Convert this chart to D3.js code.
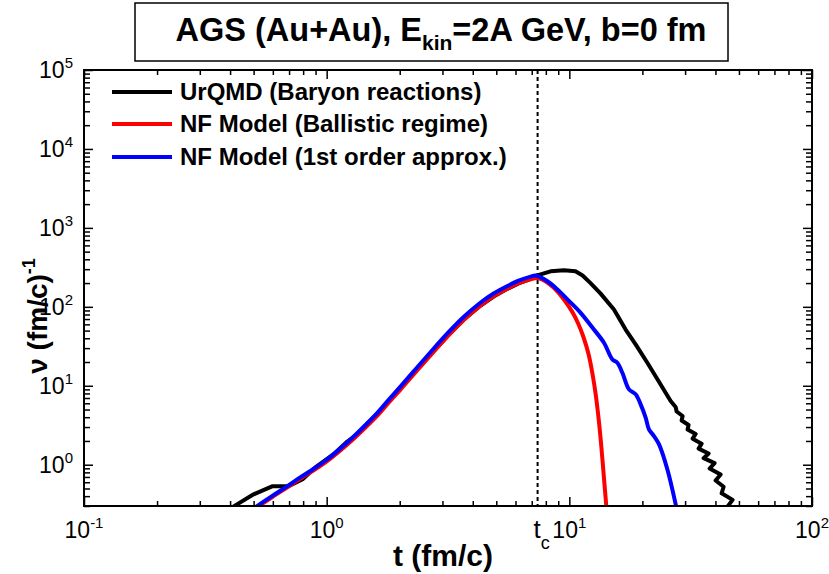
<!DOCTYPE html>
<html><head><meta charset="utf-8">
<script src="https://cdn.jsdelivr.net/npm/d3@7"></script>
<style>
body{margin:0;background:#fff}
svg{display:block}
text{font-family:Arial,"Liberation Sans",sans-serif}
</style>
</head><body>
<svg id="c" width="829" height="574"></svg>
<script>
// ---- data (t in fm/c, nu in (fm/c)^-1) ----
const urqmdT = [0.398,0.422,0.500,0.599,0.697,0.796,0.901,1.069,1.22,1.342,1.448,1.618,1.801,2.018,2.283,2.683,3.144,3.668,4.311,4.876,5.553,6.18,6.93,7.38,8.37,9.50,10.6,11.34,12.2,13.46,15.27,17.06,18.76,20.96,23.34,26.15,27.42,27.68,29.30,29.02,31.01,30.72,33.15,32.21,35.09,34.10,37.50,35.76,39.69,37.86,42.02,40.07,43.24,42.42,47.08,44.90,48.43];
const urqmdV = [0.274,0.308,0.422,0.535,0.535,0.656,0.930,1.358,1.98,2.43,3.15,4.45,6.4,9.6,14.6,25.0,42.5,68.5,104,135,169,198,226,250,282,290,282,249,201,147,92.4,51.6,33.4,19.6,11.4,6.41,5.38,4.72,4.14,3.63,3.19,2.79,2.45,2.14,1.85,1.60,1.39,1.21,1.05,0.895,0.752,0.631,0.526,0.435,0.359,0.297,0.237];

const ballisticT = [0.486,0.518,0.597,0.684,0.781,0.884,1.007,1.142,1.296,1.448,1.618,1.801,2.018,2.283,2.683,3.144,3.668,4.311,4.876,5.553,6.18,6.93,7.40,8.12,8.78,9.50,10.32,10.92,11.45,12.01,12.47,12.84,13.21,13.52,13.85,14.18,14.38];
const ballisticV = [0.25,0.29,0.39,0.51,0.67,0.85,1.12,1.53,2.15,2.98,4.2,6.1,9.0,13.9,24.5,42.0,68.0,104,136,170,200,224,231,203,165,124,84.7,59.7,40.9,24.9,13.9,7.8,3.76,1.82,0.758,0.317,0.205];

const firstOrderT = [0.486,0.518,0.597,0.684,0.781,0.884,1.007,1.142,1.296,1.448,1.618,1.801,2.018,2.283,2.683,3.144,3.668,4.311,4.876,5.553,6.18,6.93,7.26,8.12,8.93,9.93,11.13,12.63,13.89,15.04,15.77,16.54,17.61,18.76,19.67,20.63,21.28,22.32,23.40,25.34,27.42,27.94];
const firstOrderV = [0.258,0.301,0.403,0.527,0.695,0.890,1.174,1.617,2.293,3.204,4.544,6.63,9.83,15.2,26.8,46.0,74.3,113.4,147.3,183.2,215.0,241.6,248.8,210.6,165.5,120.1,84.0,51.6,35.1,21.6,19.6,14.6,9.0,7.8,5.82,3.95,2.81,2.31,1.82,0.877,0.317,0.237];

const seriesNames = ["UrQMD (Baryon reactions)","NF Model (Ballistic regime)","NF Model (1st order approx.)"];
const seriesColors = ["#000000","#ff0000","#0000ff"];
const tc = 7.4;
const xMajor = [0.1,1,10,100];
const xExp = ["-1","0","1","2"];
const yMajor = [1,10,100,1000,10000,100000];
const yExp = ["0","1","2","3","4","5"];

// ---- layout ----
const L = 84, R = 812, T = 70, B = 506;
const svg = d3.select("#c");
const x = d3.scaleLog().domain([0.1,100]).range([L,R]);
const y = d3.scaleLog().domain([0.3,1e5]).range([B,T]);

function minorsOf(domain){
  const out=[];
  for(let e=Math.floor(Math.log10(domain[0])); e<Math.log10(domain[1]); e++){
    for(let k=2;k<=9;k++){const v=k*Math.pow(10,e); if(v>=domain[0]&&v<=domain[1]) out.push(v);}
  }
  return out;
}
const xMinor = minorsOf([0.1,100]);
const yMinor = minorsOf([0.3,1e5]);

// title box
svg.append("rect").attr("x",135).attr("y",3).attr("width",593).attr("height",58)
  .attr("fill","#fff").attr("stroke","#000").attr("stroke-width",1.5);
const title = svg.append("text").attr("x",441).attr("y",41).attr("text-anchor","middle")
  .attr("font-size",32.5).attr("font-weight","bold");
title.append("tspan").text("AGS (Au+Au), E");
title.append("tspan").attr("font-size",21).attr("dy",9).text("kin");
title.append("tspan").attr("dy",-9).text("=2A GeV, b=0 fm");

// clip
svg.append("clipPath").attr("id","clip").append("rect")
  .attr("x",L).attr("y",T).attr("width",R-L).attr("height",B-T);

// axes ticks
function tickAxis(gen, tr, vals, size){
  const g = svg.append("g").attr("transform",tr)
    .call(gen.tickValues(vals).tickSize(-size).tickFormat(""));
  g.select(".domain").remove();
  g.selectAll("line").attr("stroke","#000").attr("stroke-width",1.5);
}
tickAxis(d3.axisBottom(x), `translate(0,${B})`, xMajor, 9);
tickAxis(d3.axisBottom(x), `translate(0,${B})`, xMinor, 5);
tickAxis(d3.axisTop(x), `translate(0,${T})`, xMajor, 9);
tickAxis(d3.axisTop(x), `translate(0,${T})`, xMinor, 5);
tickAxis(d3.axisLeft(y), `translate(${L},0)`, yMajor, 9);
tickAxis(d3.axisLeft(y), `translate(${L},0)`, yMinor, 6);
tickAxis(d3.axisRight(y), `translate(${R},0)`, yMajor, 9);
tickAxis(d3.axisRight(y), `translate(${R},0)`, yMinor, 6);

// tick labels
xMajor.forEach((v,i)=>{
  const t = svg.append("text").attr("x",x(v)).attr("y",538).attr("text-anchor","middle").attr("font-size",23);
  t.append("tspan").text("10");
  t.append("tspan").attr("font-size",15).attr("dy",-10).text(xExp[i]);
});
yMajor.forEach((v,i)=>{
  const t = svg.append("text").attr("x",73).attr("y",y(v)+8).attr("text-anchor","end").attr("font-size",23);
  t.append("tspan").text("10");
  t.append("tspan").attr("font-size",15).attr("dy",-10).text(yExp[i]);
});

// tc dashed line
svg.append("line").attr("x1",x(tc)).attr("x2",x(tc)).attr("y1",T).attr("y2",B)
  .attr("stroke","#000").attr("stroke-width",2).attr("stroke-dasharray","4,3");
const tcl = svg.append("text").attr("x",x(tc)-4).attr("y",538).attr("font-size",26);
tcl.append("tspan").text("t");
tcl.append("tspan").attr("font-size",18).attr("dy",11).text("c");

// curves
const plot = svg.append("g").attr("clip-path","url(#clip)");
const lineLin = d3.line().x(d=>x(d[0])).y(d=>y(d[1]));
const lineSmooth = d3.line().x(d=>x(d[0])).y(d=>y(d[1])).curve(d3.curveCatmullRom.alpha(0.5));
const sets = [
  [urqmdT, urqmdV, lineLin],
  [ballisticT, ballisticV, lineSmooth],
  [firstOrderT, firstOrderV, lineSmooth]
];
sets.forEach((s,i)=>{
  const data = s[0].map((t,j)=>[t,s[1][j]]);
  plot.append("path").attr("d",s[2](data)).attr("fill","none")
    .attr("stroke",seriesColors[i]).attr("stroke-width",4).attr("stroke-linejoin","round");
});

// frame
svg.append("rect").attr("x",L).attr("y",T).attr("width",R-L).attr("height",B-T)
  .attr("fill","none").attr("stroke","#000").attr("stroke-width",2);

// legend
const legY = [92,124,157];
seriesNames.forEach((n,i)=>{
  svg.append("line").attr("x1",112).attr("x2",172).attr("y1",legY[i]).attr("y2",legY[i])
    .attr("stroke",seriesColors[i]).attr("stroke-width",4);
  svg.append("text").attr("x",180).attr("y",legY[i]+8).attr("font-size",24).attr("font-weight","bold").text(n);
});

// axis titles
svg.append("text").attr("x",443).attr("y",566).attr("text-anchor","middle")
  .attr("font-size",30).attr("font-weight","bold").text("t (fm/c)");
const yl = svg.append("text").attr("transform","translate(47,316) rotate(-90)")
  .attr("text-anchor","middle").attr("font-size",28).attr("font-weight","bold");
yl.append("tspan").text("ν (fm/c)");
yl.append("tspan").attr("font-size",18).attr("dy",-12).text("-1");
</script>
</body></html>
